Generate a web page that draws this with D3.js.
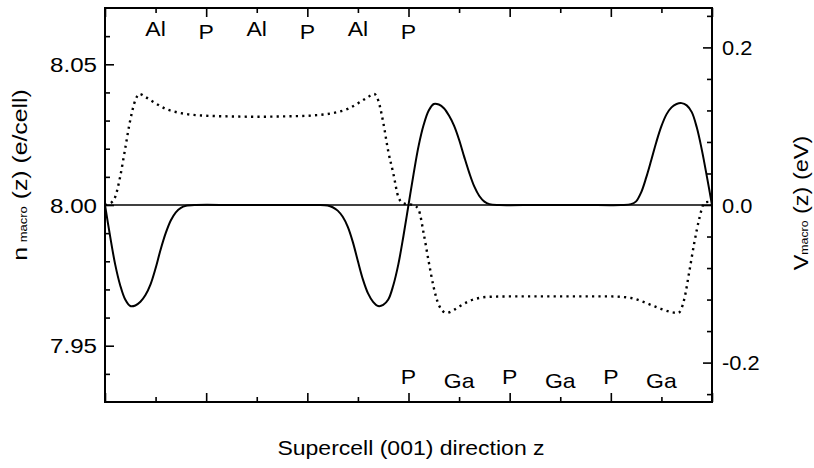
<!DOCTYPE html>
<html>
<head>
<meta charset="utf-8">
<script src="https://cdn.jsdelivr.net/npm/d3@7"></script>
<style>
	body { margin: 0; background: #fff; }
	svg { display: block; }
	text { font-family: "Liberation Sans", Arial, Helvetica, sans-serif; fill: #000; }
</style>
</head>
<body>
<div id="vis"></div>
<script>
// z along the supercell, in atomic plane units
var zN = [0, 0.1, 0.2, 0.3, 0.4, 0.5, 0.6, 0.7, 0.8, 0.9, 1.0, 1.1, 1.2, 1.3, 1.4, 1.5, 1.6, 1.8,
	2.5, 3.0, 3.5, 4.2, 4.4, 4.5, 4.6, 4.7, 4.8, 4.9, 5.0, 5.1, 5.2, 5.3, 5.4, 5.5, 5.6, 5.7, 5.8, 5.9, 6.0,
	6.1, 6.2, 6.3, 6.4, 6.5, 6.6, 6.7, 6.8, 6.9, 7.0, 7.1, 7.2, 7.3, 7.4, 7.5, 7.6, 7.8,
	8.5, 9.0, 9.5, 10.2, 10.4, 10.5, 10.6, 10.7, 10.8, 10.9, 11.0, 11.1, 11.2, 11.3, 11.4, 11.5, 11.6, 11.7, 11.8, 11.9, 12.0];
// n_macro(z) in e/cell (solid line, left axis)
var nMacro = [8.000, 7.989, 7.979, 7.9715, 7.9664, 7.9641, 7.9643, 7.9656, 7.9680, 7.9718, 7.9775, 7.9842, 7.9900, 7.9945, 7.9974, 7.9990, 7.9997, 8.000,
	8.000, 8.000, 8.000, 8.000, 7.9998, 7.9992, 7.998, 7.9958, 7.9922, 7.9868, 7.9800, 7.9735, 7.9686, 7.9656, 7.9641, 7.9645, 7.9664, 7.9715, 7.979, 7.989, 8.000,
	8.011, 8.021, 8.0285, 8.0336, 8.0359, 8.0357, 8.0344, 8.0318, 8.0282, 8.0232, 8.0172, 8.0115, 8.0066, 8.0032, 8.0012, 8.0003, 8.000,
	8.000, 8.000, 8.000, 8.000, 8.0003, 8.0013, 8.0045, 8.0098, 8.0160, 8.0224, 8.0280, 8.0322, 8.0347, 8.0359, 8.0362, 8.0354, 8.0330, 8.0275, 8.0195, 8.0100, 8.000];

var zV = [0, 0.1, 0.2, 0.3, 0.4, 0.5, 0.6, 0.68, 0.8, 0.9, 1.0, 1.2, 1.4, 1.6, 1.9, 2.5, 3.0, 3.5, 4.1, 4.4,
	4.6, 4.8, 5.0, 5.1, 5.2, 5.32, 5.4, 5.5, 5.6, 5.7, 5.8, 5.9, 6.0, 6.1, 6.2, 6.3, 6.4, 6.5, 6.6, 6.75,
	6.9, 7.0, 7.2, 7.4, 7.6, 8.0, 9.0, 10.0, 10.4, 10.6, 10.8, 11.0, 11.2, 11.33, 11.45, 11.55, 11.65, 11.75, 11.85, 11.95, 12.0];
// V_macro(z) in eV (dotted line, right axis)
var vMacro = [0.000, 0.002, 0.010, 0.036, 0.072, 0.108, 0.133, 0.141, 0.137, 0.133, 0.129, 0.122, 0.118, 0.1155, 0.1136, 0.1124, 0.112, 0.1124, 0.1136, 0.1155,
	0.118, 0.122, 0.129, 0.133, 0.137, 0.141, 0.133, 0.105, 0.068, 0.040, 0.010, 0.002, 0.001, 0.000, -0.006, -0.036, -0.072, -0.105, -0.127, -0.137,
	-0.133, -0.129, -0.122, -0.118, -0.1165, -0.116, -0.116, -0.116, -0.118, -0.122, -0.127, -0.132, -0.136, -0.137, -0.120, -0.085, -0.048, -0.017, 0.003, 0.004, 0.000];

var topAtoms = ['Al', 'P', 'Al', 'P', 'Al', 'P'];
var topAtomZ = [1, 2, 3, 4, 5, 6];
var bottomAtoms = ['P', 'Ga', 'P', 'Ga', 'P', 'Ga'];
var bottomAtomZ = [6, 7, 8, 9, 10, 11];

var nTicks = [7.95, 8.00, 8.05];
var nMinorTicks = [7.94, 7.96, 7.97, 7.98, 7.99, 8.01, 8.02, 8.03, 8.04, 8.06];
var vTicks = [-0.2, 0.0, 0.2];
var vMinorTicks = [-0.24, -0.16, -0.12, -0.08, -0.04, 0.04, 0.08, 0.12, 0.16, 0.24];
var zMajorTicks = [0, 2, 4, 6, 8, 10, 12];
var zMinorTicks = [1, 3, 5, 7, 9, 11];

buildChart();

function buildChart() {
	var width = 814, height = 468;
	var box = {left: 105, right: 712, top: 8, bottom: 402};

	var svg = d3.select('#vis')
		.append('svg')
		.attr('width', width)
		.attr('height', height);

	var x = d3.scaleLinear().domain([0, 12]).range([box.left, box.right]);
	var yN = d3.scaleLinear().domain([7.93, 8.07]).range([box.bottom, box.top]);
	var yV = d3.scaleLinear().domain([-0.25, 0.25]).range([box.bottom, box.top]);

	drawTicks(svg, box, x, yN, yV);

	// reference line at 8.00
	svg.append('line')
		.attr('x1', x(0)).attr('x2', x(12))
		.attr('y1', yN(8.0)).attr('y2', yN(8.0))
		.attr('stroke', '#000')
		.attr('stroke-width', 1.3);

	var nLine = d3.line()
		.x(function(d, i) { return x(zN[i]); })
		.y(function(d) { return yN(d); })
		.curve(d3.curveCatmullRom.alpha(0.5));

	var vLine = d3.line()
		.x(function(d, i) { return x(zV[i]); })
		.y(function(d) { return yV(d); })
		.curve(d3.curveMonotoneX);

	svg.append('path')
		.datum(nMacro)
		.attr('d', nLine)
		.attr('fill', 'none')
		.attr('stroke', '#000')
		.attr('stroke-width', 2);

	svg.append('path')
		.datum(vMacro)
		.attr('d', vLine)
		.attr('fill', 'none')
		.attr('stroke', '#000')
		.attr('stroke-width', 2.4)
		.attr('stroke-dasharray', '2.2,4.2');

	// frame
	svg.append('rect')
		.attr('x', box.left).attr('y', box.top)
		.attr('width', box.right - box.left)
		.attr('height', box.bottom - box.top)
		.attr('fill', 'none')
		.attr('stroke', '#000')
		.attr('stroke-width', 2);

	drawLabels(svg, box, x, yN, yV);
}

// Inward ticks on all four sides
function drawTicks(svg, box, x, yN, yV) {
	var sets = [
		[d3.axisLeft(yN).tickValues(nTicks).tickSize(-9), 'translate(' + box.left + ',0)'],
		[d3.axisLeft(yN).tickValues(nMinorTicks).tickSize(-5), 'translate(' + box.left + ',0)'],
		[d3.axisRight(yV).tickValues(vTicks).tickSize(-9), 'translate(' + box.right + ',0)'],
		[d3.axisRight(yV).tickValues(vMinorTicks).tickSize(-5), 'translate(' + box.right + ',0)'],
		[d3.axisBottom(x).tickValues(zMajorTicks).tickSize(-9), 'translate(0,' + box.bottom + ')'],
		[d3.axisBottom(x).tickValues(zMinorTicks).tickSize(-5), 'translate(0,' + box.bottom + ')'],
		[d3.axisTop(x).tickValues(zMajorTicks).tickSize(-9), 'translate(0,' + box.top + ')'],
		[d3.axisTop(x).tickValues(zMinorTicks).tickSize(-5), 'translate(0,' + box.top + ')']
	];
	sets.forEach(function(s) {
		var g = svg.append('g')
			.attr('transform', s[1])
			.call(s[0].tickFormat('').tickSizeOuter(0));
		g.select('.domain').remove();
		g.selectAll('line').attr('stroke', '#000').attr('stroke-width', 1.6);
	});
}

// text helper, sx widens the glyphs a little like the original print
function addText(svg, px, py, str, size, anchor, sx, rot) {
	return svg.append('text')
		.attr('transform', 'translate(' + px + ',' + py + ')' + (rot ? ' rotate(' + rot + ')' : '') + ' scale(' + sx + ',1)')
		.attr('text-anchor', anchor)
		.attr('font-size', size)
		.text(str);
}

function drawLabels(svg, box, x, yN, yV) {
	nTicks.forEach(function(v) {
		addText(svg, 97, yN(v), d3.format('.2f')(v), 21, 'end', 1.15).attr('dy', '0.36em');
	});
	vTicks.forEach(function(v) {
		addText(svg, 722, yV(v), d3.format('.1f')(v).replace('\u2212', '-'), 21, 'start', 1.04).attr('dy', '0.36em');
	});

	topAtoms.forEach(function(a, i) {
		addText(svg, x(topAtomZ[i]), a === 'P' ? 38.5 : 36, a, 20, 'middle', 1.15);
	});
	bottomAtoms.forEach(function(a, i) {
		addText(svg, x(bottomAtomZ[i]), a === 'P' ? 384 : 387.5, a, 20, 'middle', 1.15);
	});

	addText(svg, 411, 455, 'Supercell (001) direction z', 20, 'middle', 1.15);

	var left = addText(svg, 27, 175, 'n', 21, 'middle', 1.18, -90);
	left.append('tspan').attr('font-size', 11).attr('dx', 4).text('macro');
	left.append('tspan').text(' (z) (e/cell)');

	var right = addText(svg, 808, 203, 'V', 21, 'middle', 1.12, -90);
	right.append('tspan').attr('font-size', 11).text('macro');
	right.append('tspan').text(' (z) (eV)');
}
</script>
</body>
</html>
